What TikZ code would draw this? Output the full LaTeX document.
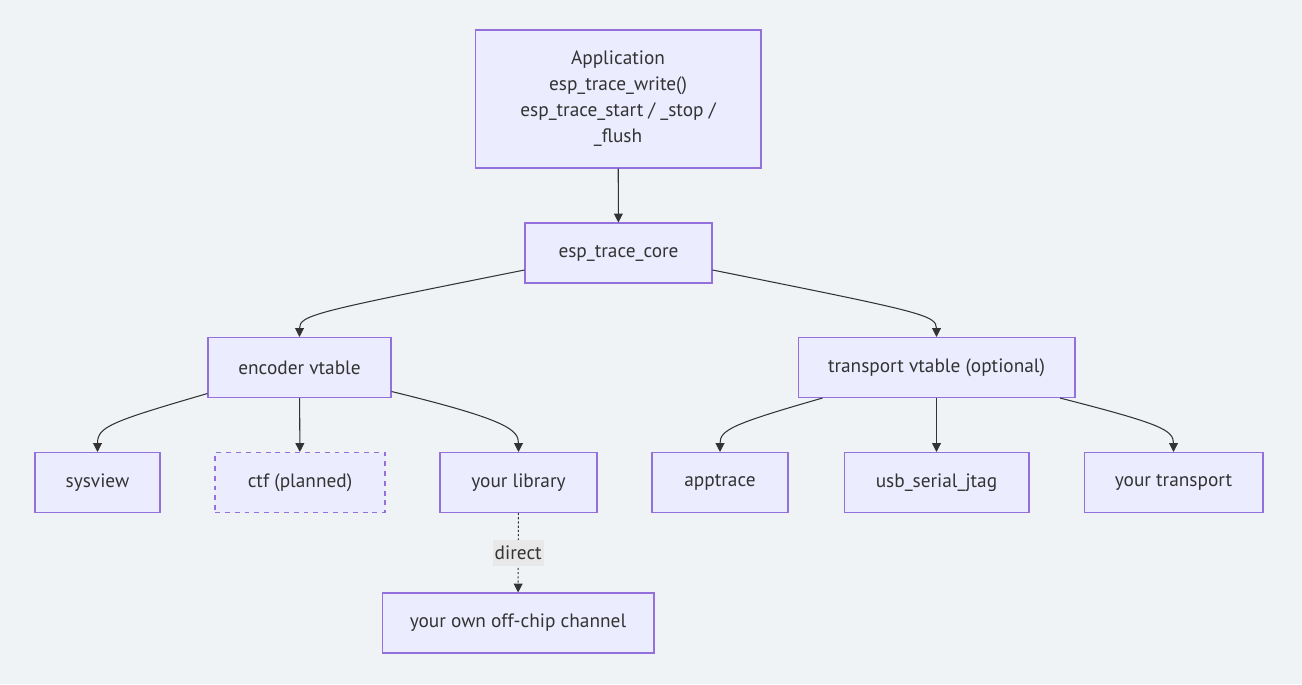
\documentclass[tikz,border=0pt]{standalone}
\usepackage{fontspec}
\setmainfont{PT Sans}
\usetikzlibrary{arrows.meta,calc}
\definecolor{bgcol}{RGB}{239,243,246}
\definecolor{boxfill}{RGB}{236,236,255}
\definecolor{boxline}{RGB}{147,112,219}
\definecolor{inkcol}{RGB}{51,51,51}
\definecolor{lblfill}{RGB}{232,232,232}
\tikzset{
    box/.style={draw=boxline, fill=boxfill, line width=0.6pt, text=inkcol,
        minimum height=1.2cm, inner sep=0pt, align=center,
        font=\fontsize{11}{14.8}\selectfont},
    planned/.style={box, dash pattern=on 2.8pt off 2.8pt},
    edge/.style={draw=inkcol, line width=0.6pt, -{Triangle[length=5pt,width=5pt]}},
    lbl/.style={fill=lblfill, text=inkcol, inner xsep=1.2pt, minimum height=0.52cm,
        font=\fontsize{11}{13}\selectfont},
}
\begin{document}
\begin{tikzpicture}[x=0.02cm,y=-0.02cm]
    \fill[bgcol] (0,0) rectangle (1302,684);

    % top of the stack
    \node[box, minimum width=5.72cm, minimum height=2.76cm] (app) at (618,99)
        {Application\\esp\_trace\_write()\\esp\_trace\_start / \_stop /\\\_flush};
    \node[box, minimum width=3.74cm] (core) at (618.5,253) {esp\_trace\_core};

    % the two vtables
    \node[box, minimum width=3.66cm] (enc) at (299.5,367.5) {encoder vtable};
    \node[box, minimum width=5.54cm] (trans) at (936.5,367.5) {transport vtable (optional)};

    % encoders
    \node[box, minimum width=2.5cm] (sysview) at (97.5,482.5) {sysview};
    \node[planned, minimum width=3.4cm] (ctf) at (300,482.5) {ctf (planned)};
    \node[box, minimum width=3.14cm] (lib) at (518.5,482.5) {your library};

    % transports
    \node[box, minimum width=2.72cm] (apptrace) at (720,482.5) {apptrace};
    \node[box, minimum width=3.7cm] (usb) at (936.5,482.5) {usb\_serial\_jtag};
    \node[box, minimum width=3.58cm] (owntrans) at (1173.5,482.5) {your transport};

    \node[box, minimum width=5.44cm] (chan) at (518,623) {your own off-chip channel};

    \draw[edge] (app) -- (core);
    \draw[edge] ($(core.west)+(0,17)$) .. controls ($(enc.north)+(15,-25)$) and ($(enc.north)+(0,-22)$) .. (enc.north);
    \draw[edge] ($(core.east)+(0,17)$) .. controls ($(trans.north)+(-15,-25)$) and ($(trans.north)+(0,-22)$) .. (trans.north);

    \draw[edge] ($(enc.west)+(0,26)$) .. controls ($(sysview.north)+(12,-30)$) and ($(sysview.north)+(0,-25)$) .. (sysview.north);
    \draw[edge] (enc) -- (ctf);
    \draw[edge] ($(enc.east)+(0,24)$) .. controls ($(lib.north)+(-10,-32)$) and ($(lib.north)+(0,-22)$) .. (lib.north);

    \draw[edge] ($(trans.south)+(-114,0)$) .. controls ($(apptrace.north)+(12,-28)$) and ($(apptrace.north)+(0,-22)$) .. (apptrace.north);
    \draw[edge] (trans) -- (usb);
    \draw[edge] ($(trans.south)+(123.5,0)$) .. controls ($(owntrans.north)+(-12,-28)$) and ($(owntrans.north)+(0,-22)$) .. (owntrans.north);

    \draw[edge, dash pattern=on 1.2pt off 1.2pt] (lib) -- node[lbl] (direct) {direct} (chan);
\end{tikzpicture}
\end{document}
